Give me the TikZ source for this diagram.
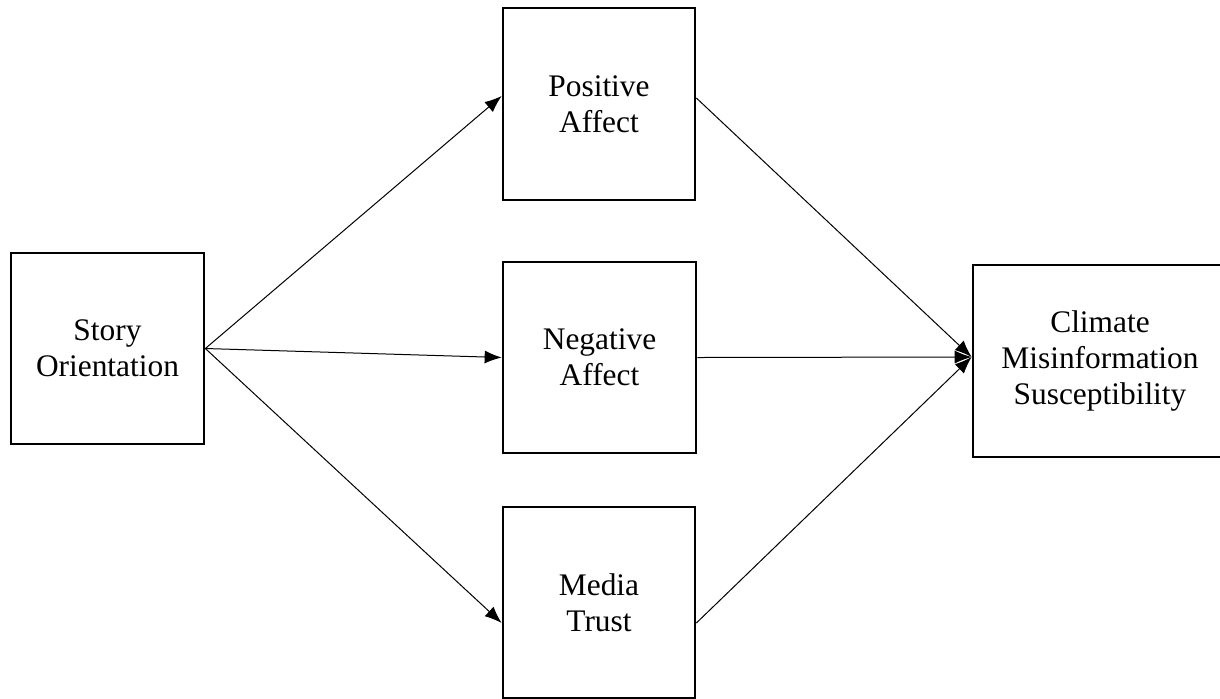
\documentclass[tikz,border=0pt]{standalone}
\usepackage{fontspec}
\setmainfont{Liberation Serif}
\usetikzlibrary{arrows.meta,calc}
\begin{document}
\begin{tikzpicture}[x=0.5pt,y=-0.5pt,
  box/.style={draw=black,line width=1.35pt,fill=white,inner sep=0pt,align=center,
    font=\fontsize{15.7pt}{18pt}\selectfont},
  conn/.style={draw=black,line width=0.5pt,-{Latex[length=8.5pt,width=6.5pt]}}]
\clip (0,0) rectangle (1220,698);
\fill[white] (0,0) rectangle (1220,698);
\node[box,minimum width=96.5pt,minimum height=95.5pt] (story) at (107.5,348.5) {Story\\Orientation};
\node[box,minimum width=96pt,minimum height=96pt] (pos) at (599,104) {Positive\\Affect};
\node[box,minimum width=96.5pt,minimum height=95.5pt] (neg) at (599.5,357.5) {Negative\\Affect};
\node[box,minimum width=96pt,minimum height=95.5pt] (media) at (599,602.5) {Media\\Trust};
\node[box,minimum width=127pt,minimum height=96pt] (clim) at (1100,361) {Climate\\Misinformation\\Susceptibility};
\coordinate (tgt) at ($(clim.west)+(0,-4)$);
\draw[conn] (story.east) -- ($(pos.west)+(0,-8)$);
\draw[conn] (story.east) -- (neg.west);
\draw[conn] (story.east) -- ($(media.west)+(0,20.5)$);
\draw[conn] ($(pos.east)+(0,-6)$) -- (tgt);
\draw[conn] (neg.east) -- (tgt);
\draw[conn] ($(media.east)+(0,20.5)$) -- (tgt);
\end{tikzpicture}
\end{document}
